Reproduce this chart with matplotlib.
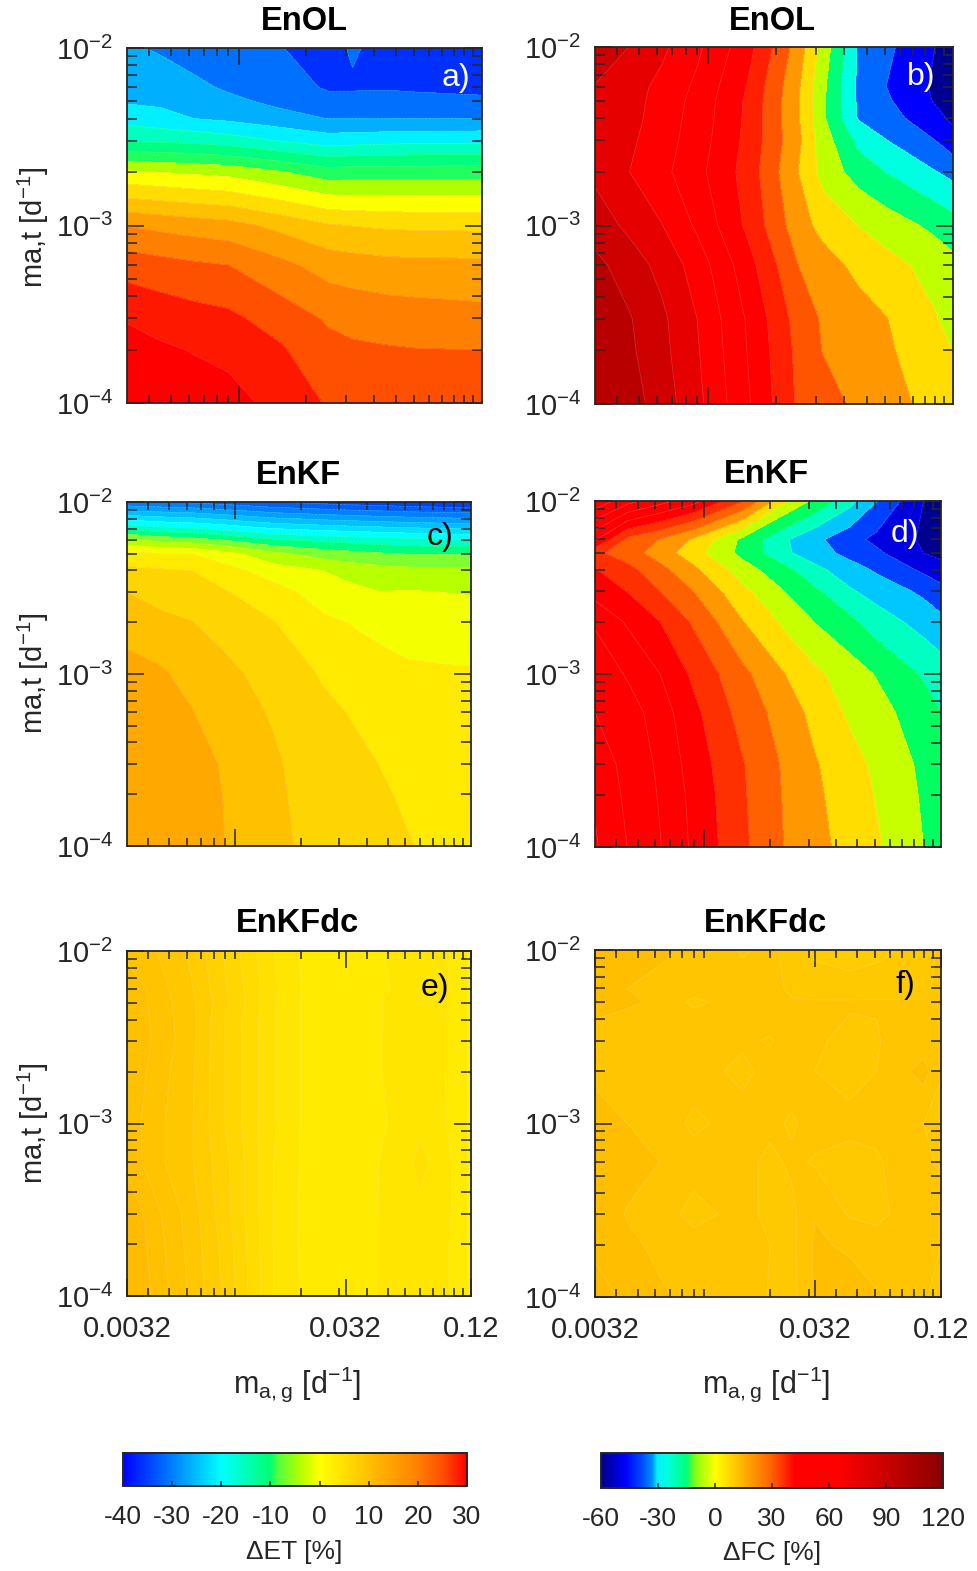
import matplotlib
matplotlib.use('Agg')
import matplotlib.pyplot as plt
import numpy as np
from matplotlib.colors import LinearSegmentedColormap, Normalize
from matplotlib.cm import ScalarMappable

plt.rcParams['font.family'] = ['Liberation Sans', 'DejaVu Sans']
plt.rcParams['mathtext.fontset'] = 'custom'
plt.rcParams['mathtext.rm'] = 'Liberation Sans'
plt.rcParams['mathtext.default'] = 'regular'

W, H = 977, 1571
DARK = '#262626'

# grid of the model runs
mag = [0.0032, 0.0045, 0.0063, 0.009, 0.015, 0.025, 0.032, 0.046, 0.061, 0.1, 0.12]
mag_e = [0.0032, 0.0045, 0.0063, 0.009, 0.015, 0.025, 0.032, 0.046, 0.061, 0.07, 0.1, 0.12]
mag_f = [0.0032, 0.0045, 0.0063, 0.009, 0.015, 0.02, 0.025, 0.032, 0.046, 0.061, 0.07, 0.1, 0.12]
mat = [1e-2, 6e-3, 5e-3, 4e-3, 3e-3, 2e-3, 1e-3, 6e-4, 3e-4, 2e-4, 1e-4]

# a) dET EnOL, one list per mag value
et_enol = [
    [-23.4, -21.3, -20.4, -17.6, -12.3, 0.5, 15.9, 22.2, 27.7, 29.5, 31],
    [-24.5, -21.8, -20.8, -18.6, -12.7, -0.1, 15, 21.4, 26.5, 28.6, 30.5],
    [-26, -23, -21.7, -20, -13, -0.7, 14.2, 20.6, 25.6, 27.8, 30],
    [-27, -24.6, -23, -20.8, -14, -1.3, 13.5, 20, 24.9, 26.9, 29.5],
    [-27.8, -26, -25, -22.4, -16.1, -3.6, 11, 17.2, 22.3, 24.6, 26.8],
    [-29.5, -28.5, -26.7, -24.1, -17.9, -6.3, 8.4, 14.3, 19.5, 21.2, 23.6],
    [-27.5, -28.5, -26.6, -24.1, -17.6, -6, 7.9, 13.8, 18.8, 20.6, 22.5],
    [-29.6, -28.4, -26.5, -24.1, -17.2, -5.9, 7.4, 13.2, 18.2, 20.3, 21.8],
    [-30, -28.6, -26.8, -24, -17, -5.9, 7.3, 13.1, 17.9, 20.1, 21.5],
    [-30.5, -28.9, -27.1, -24, -16.9, -5.8, 7.2, 13, 17.5, 20, 21.2],
    [-31, -29, -27.2, -24, -16.8, -5.7, 7.1, 12.9, 17.4, 20, 21],
]
# b) dFC EnOL, one list per mat value
fc_enol = [
    [92.7, 85, 77, 67, 48.8, 20.5, 1.2, -26, -32.7, -45, -49],
    [84.5, 79, 72.5, 63, 44.5, 16.5, -2.5, -26.8, -35, -46.5, -50],
    [83, 79, 71.2, 61.7, 43.3, 16.2, -2.8, -26.6, -33.5, -45.8, -50],
    [82, 78.6, 70.4, 61, 43, 16, -3, -25.8, -30.5, -42.2, -47],
    [80, 77, 69.5, 60, 42.3, 17.4, 0.4, -17.8, -24.8, -35, -41],
    [83, 75.2, 67.7, 58.1, 41, 15, 1.5, -9.4, -15.4, -24.6, -28],
    [90, 83, 75.3, 63.3, 43, 19.3, 11.9, 4.8, 0.3, -7.5, -11],
    [98, 90, 82, 70.5, 49, 25, 19.2, 12.4, 8.3, 1.5, -2],
    [103, 96, 87, 75, 53.9, 31, 23.9, 19, 15.3, 5.7, 2],
    [105, 97, 87.9, 76, 54.7, 32.5, 24.7, 20, 16.6, 8, 4.8],
    [110, 100, 90.2, 77.8, 56.3, 33.5, 29.2, 22.8, 19, 11.5, 9],
]
# c) dET EnKF, one list per mat value
et_enkf = [
    [-27.5, -28, -28.5, -29.5, -31, -32, -32.5, -33, -33.5, -34, -34],
    [-3.2, -4.9, -5.6, -7.1, -9.5, -10.6, -11, -11.6, -12, -12.6, -12.7],
    [2.7, 2.3, 2, 0.1, -3.3, -5.3, -5.9, -6.7, -7.1, -7.2, -7.2],
    [5.75, 5.3, 5, 3.2, 0.5, -1, -2, -2.9, -3.2, -3.4, -3.4],
    [8, 6.9, 6.3, 5.2, 3.2, 0.7, 0, -1, -0.8, -1.1, -1.2],
    [9.6, 8.8, 8.1, 6.7, 5.1, 2.6, 2, 1.3, 0.8, 0.5, 0.4],
    [12.3, 11.5, 9.9, 8.9, 6.6, 4.8, 3.8, 2.9, 2.5, 2.3, 2.3],
    [14, 12.8, 11.2, 9, 7.8, 5.5, 5, 3.7, 3.1, 2.9, 2.8],
    [16, 14.5, 12.5, 10.6, 8.3, 6.8, 5.9, 4.95, 4.1, 3.5, 3.4],
    [17, 15.3, 13.3, 10.8, 8.4, 7, 6.4, 5.4, 4.6, 3.7, 3.6],
    [18, 16, 14, 11, 8.5, 7.3, 7, 6, 5.2, 4, 3.8],
]
# d) dFC EnKF, one list per mat value
fc_enkf = [
    [75, 64, 56.3, 48, 29.7, 2.6, -4.9, -16.2, -26.7, -43, -46],
    [46, 27, 20.7, 11.8, -4.8, -19.6, -25, -32.1, -37, -44.2, -47],
    [31, 24.6, 17.4, 8.2, -5.4, -18.8, -23.4, -29.4, -33.4, -43, -45],
    [37.5, 31.7, 23.6, 14.7, 0.9, -10.5, -16.7, -23.4, -28.1, -36.5, -40],
    [42, 36.8, 29.1, 20.9, 7, -4.6, -9.5, -17.9, -22.1, -28.6, -32],
    [52, 44, 37.1, 27.9, 13.3, 1.9, -3.2, -8.9, -15, -22, -25],
    [59, 52.1, 45.1, 35.3, 23, 11.5, 6.7, 0.9, -3.5, -12, -15],
    [61, 57, 49, 39, 26, 16, 10.5, 3.7, 0, -7.5, -11],
    [66, 58.3, 51.7, 41.3, 29.6, 18.3, 13.7, 8, 3.4, -4.7, -8],
    [68, 59.2, 52.4, 42.6, 30, 18.8, 14.5, 9, 4.5, -4, -7],
    [70, 60.9, 53.5, 43.5, 30.7, 19.2, 15.6, 10.2, 6.1, -3, -6],
]
# e) dET EnKFdc, one list per mag_e value
et_dc = [
    [11.6, 12.9, 12.9, 12.9, 12.9, 12.9, 12.6, 12.7, 13.9, 14.1, 14.4],
    [10.9, 11.4, 11.5, 11.6, 11.7, 11.4, 11.2, 11.2, 12.1, 12.3, 12.5],
    [9.8, 10.1, 10.25, 10.3, 10.3, 10.2, 10.1, 10.1, 10.5, 10.6, 10.8],
    [7.9, 8.1, 8.3, 8, 8, 8, 8, 8.3, 8.4, 8.6, 8.8],
    [5, 5.2, 5.1, 5.1, 5.1, 5.1, 5.1, 5, 4.95, 4.97, 5],
    [3.1, 3.1, 3.1, 3.1, 3.1, 3.1, 3.1, 3.1, 3.1, 3.1, 3.1],
    [3.1, 3.1, 3.1, 3.1, 3.1, 3.1, 3.1, 3.1, 3.1, 3.1, 3.1],
    [3.95, 3.8, 3.97, 3.95, 3.97, 3.97, 3.85, 4.03, 4.06, 4.06, 4.1],
    [4.3, 4.3, 4.4, 4.4, 4.4, 4.4, 4.4, 4.6, 4.4, 4.4, 4.4],
    [4.5, 4.6, 4.75, 4.6, 4.6, 4.6, 4.75, 5.4, 4.7, 4.6, 4.6],
    [3.9, 3.9, 3.9, 3.8, 3.8, 3.8, 3.8, 3.9, 3.95, 3.9, 3.9],
    [2.8, 2.8, 2.8, 2.8, 2.8, 2.8, 2.8, 2.8, 2.8, 2.8, 2.8],
]
# f) dFC EnKFdc, one list per mat value
fc_dc = [
    [13.8, 13.5, 13.2, 12.8, 11.9, 12.2, 11.7, 10.8, 10.4, 10.7, 10.9, 11.5, 12.2],
    [13.4, 13, 12.7, 12.5, 12.4, 12.4, 11.8, 11.5, 11.5, 11.6, 11.6, 11.7, 12.4],
    [13.4, 13.2, 12.8, 11.75, 12.5, 12.4, 12.1, 12.1, 12.1, 12.1, 12.1, 12.1, 12.5],
    [13, 12.7, 12.6, 12.5, 12.5, 12.4, 12.5, 12.4, 11.95, 12, 12.3, 12.4, 12.3],
    [12.8, 12.7, 12.6, 12.5, 12.2, 11.9, 12.5, 12.3, 11.5, 11.8, 12.4, 12.5, 12.5],
    [12.7, 12.6, 12.5, 12.5, 11.7, 12.4, 12.5, 12, 11.5, 12, 12.4, 13.4, 12.1],
    [13.6, 13, 12.7, 11.75, 12.5, 12.3, 11.85, 12.4, 12.4, 12.4, 12.4, 12, 11.5],
    [13.9, 13.5, 13, 12.5, 12.4, 11.7, 12.2, 11.9, 11.5, 11.8, 12.2, 12.3, 11.8],
    [13.9, 12.9, 12.6, 11.6, 12.4, 11.7, 11.7, 12.95, 11.9, 11.7, 12, 12.4, 12.4],
    [13.7, 13.3, 12.7, 12.5, 12.4, 12, 11.7, 13.15, 12.85, 12.5, 12.6, 12.5, 12],
    [14.6, 13.7, 13.2, 12.6, 12.4, 11.95, 11.6, 13.2, 13.5, 13.1, 12.95, 12.1, 11.7],
]

# contour levels and the colour of each band
levels_a = [-32, -28, -24, -20, -16, -12, -8, -4, 0, 4, 8, 12, 16, 20, 24, 28, 32]
colors_a = ['#0030ff', '#0070ff', '#00b0ff', '#00f0ff', '#00ffc0', '#00ff80', '#20ff60', '#b0ff00',
            '#ffff00', '#ffdd00', '#ffc000', '#ffa000', '#ff8000', '#ff5000', '#ff1800', '#ff0000']
levels_b = [-55, -45, -35, -25, -15, -5, 5, 15, 25, 35, 45, 55, 65, 75, 85, 95, 125]
colors_b = ['#000090', '#0000ff', '#0068ff', '#00ffe0', '#00ff78', '#c0ff00', '#ffdd00', '#ff9800',
            '#ff5500', '#ff2000', '#ff0000', '#ff0000', '#ff0000', '#e60000', '#ce0000', '#b80000']
levels_c = [-37, -34, -31, -28, -25, -22, -19, -16, -13, -10, -7, -4, -1, 2, 5, 8, 11, 20]
colors_c = ['#0030ff', '#0040ff', '#0060ff', '#0080ff', '#00a0ff', '#00c0ff', '#00e0ff', '#00ffff',
            '#00ffc8', '#00ff80', '#80ff30', '#b8ff00', '#f4ff00', '#ffea00', '#ffd500', '#ffc000', '#ffa800']
levels_d = [-51, -43, -35, -27, -19, -11, -3, 5, 13, 21, 29, 37, 45, 53, 61, 69, 80]
colors_d = ['#000090', '#0000e0', '#0040ff', '#00c8ff', '#00ffc0', '#00ff60', '#c8ff00', '#ffdd00',
            '#ff9800', '#ff6000', '#ff3000', '#ff0000', '#ff0000', '#ff0000', '#ff0000', '#ff0000']
levels_e = [2, 3, 4, 5, 6, 7, 8, 9, 10, 11, 12, 13, 20]
colors_e = ['#ffef00', '#ffea00', '#ffe500', '#ffe000', '#ffdb00', '#ffd600', '#ffd100', '#ffcc00',
            '#ffc700', '#ffc300', '#ffc000', '#ffbb00']
levels_f = [10, 11, 12, 13, 14, 16]
colors_f = ['#ffcc00', '#ffc900', '#ffc500', '#ffbf00', '#ffbb00']

# colorbars
et_stops = [-40, -30, -20, -10, -8.5, -4, 0, 10, 20, 25, 30]
et_colors = ['#0000ff', '#0080ff', '#00ffff', '#00ff70', '#50ff40', '#b0ff00', '#ffff00', '#ffc000',
             '#ff8000', '#ff5000', '#ff0000']
et_ticks = [-40, -30, -20, -10, 0, 10, 20, 30]
fc_stops = [-60, -47, -38, -33, -30.5, -25, -15, -13, -10, 0, 15, 30, 42, 65, 120]
fc_colors = ['#00008b', '#0000ff', '#0050ff', '#0090ff', '#00f0ff', '#00ffe0', '#00ff78', '#40ff40',
             '#90ff10', '#ffff00', '#ffb000', '#ff6000', '#ff0000', '#ff0000', '#8b0000']
fc_ticks = [-60, -30, 0, 30, 60, 90, 120]

y_major = [1e-4, 1e-3, 1e-2]
y_labels = ['$10^{-4}$', '$10^{-3}$', '$10^{-2}$']
y_minor = [2e-4, 3e-4, 4e-4, 5e-4, 6e-4, 7e-4, 8e-4, 9e-4, 2e-3, 3e-3, 4e-3, 5e-3, 6e-3, 7e-3, 8e-3, 9e-3]
x_minor = [0.004, 0.005, 0.006, 0.007, 0.008, 0.009, 0.02, 0.03, 0.04, 0.05, 0.06, 0.07, 0.08, 0.09, 0.1, 0.11]
x_labels = ['0.0032', '0.032', '0.12']
x_label_pos = [0.0032, 0.032, 0.12]


def add_axes_px(left, top, right, bottom):
    return fig.add_axes([left / W, 1 - bottom / H, (right - left) / W, (bottom - top) / H])


def text_px(x, y, s, **kw):
    kw.setdefault('ha', 'center')
    kw.setdefault('va', 'center')
    kw.setdefault('color', DARK)
    fig.text(x / W, 1 - y / H, s, **kw)


def panel(box, x, z, levels, colors, title, title_xy, letter, letter_xy, letter_color, bottom_row):
    ax = add_axes_px(*box)
    lx = np.log10(x)
    ly = np.log10(mat)
    ax.contourf(lx, ly, z, levels=levels, colors=colors)
    ax.contour(lx, ly, z, levels=levels[1:-1], colors='white', linewidths=0.5, alpha=0.22)
    ax.set_xlim(np.log10(0.0032), np.log10(0.12))
    ax.set_ylim(-4, -2)
    ax.set_yticks(np.log10(y_major))
    ax.set_yticklabels(y_labels)
    ax.set_yticks(np.log10(y_minor), minor=True)
    minor = list(x_minor)
    if bottom_row:
        minor = minor + [0.01]
        ax.set_xticks(np.log10(x_label_pos))
        ax.set_xticklabels(x_labels)
    else:
        ax.set_xticks(np.log10([0.01]))
        ax.set_xticklabels([''])
    ax.set_xticks(np.log10(minor), minor=True)
    ax.tick_params(axis='both', which='major', direction='in', top=True, right=True, length=12.5,
                   width=1.1, color=DARK, labelcolor=DARK, labelsize=21)
    ax.tick_params(axis='both', which='minor', direction='in', top=True, right=True, length=6,
                   width=1.1, color=DARK)
    ax.tick_params(axis='y', which='minor', length=7.2)
    ax.tick_params(axis='x', which='major', pad=14)
    ax.tick_params(axis='y', which='major', pad=10)
    for sp in ax.spines.values():
        sp.set_linewidth(1.3)
        sp.set_color(DARK)
    text_px(title_xy[0], title_xy[1], title, fontsize=23.5, fontweight='bold', color='black')
    text_px(letter_xy[0], letter_xy[1], letter, fontsize=23, color=letter_color)
    return ax


def colorbar(box, stops, colors, ticks, label, label_xy):
    cax = add_axes_px(*box)
    lo, hi = stops[0], stops[-1]
    pos = [(s - lo) / (hi - lo) for s in stops]
    cmap = LinearSegmentedColormap.from_list('bar', list(zip(pos, colors)), N=512)
    cb = fig.colorbar(ScalarMappable(Normalize(lo, hi), cmap), cax=cax, orientation='horizontal')
    cb.set_ticks(ticks)
    cb.set_ticklabels([str(t) for t in ticks])
    cb.outline.set_linewidth(1.4)
    cb.outline.set_edgecolor(DARK)
    cax.tick_params(axis='x', direction='in', length=3.5, width=1.1, color=DARK, labelcolor=DARK,
                    labelsize=19, pad=14)
    text_px(label_xy[0], label_xy[1], label, fontsize=19)


fig = plt.figure(figsize=(W / 100, H / 100), dpi=100)

panel((127, 48, 482, 403), mag, np.array(et_enol).T, levels_a, colors_a, 'EnOL', (304, 22),
      'a)', (456, 78), 'white', False)
panel((595, 47, 953, 404), mag, np.array(fc_enol), levels_b, colors_b, 'EnOL', (772, 21),
      'b)', (921, 77), 'white', False)
panel((127, 502, 471, 846), mag, np.array(et_enkf), levels_c, colors_c, 'EnKF', (298, 475),
      'c)', (440, 537), 'black', False)
panel((595, 501, 941, 847), mag, np.array(fc_enkf), levels_d, colors_d, 'EnKF', (766, 474),
      'd)', (905, 534), 'white', False)
panel((127, 951, 471, 1296), mag_e, np.array(et_dc).T, levels_e, colors_e, 'EnKFdc', (298, 924),
      'e)', (435, 988), 'black', True)
panel((595, 950, 941, 1297), mag_f, np.array(fc_dc), levels_f, colors_f, 'EnKFdc', (766, 924),
      'f)', (905, 985), 'black', True)

for yc in [227, 673, 1123]:
    text_px(33, yc, 'ma,t [d$^{-1}$]', fontsize=21, rotation=90)
for xc in [297, 766]:
    text_px(xc, 1384, '$m_{a,g}$ [d$^{-1}$]', fontsize=22)

colorbar((123, 1453, 467, 1486), et_stops, et_colors, et_ticks, '\u0394ET [%]', (294, 1552))
colorbar((601, 1453, 943, 1488), fc_stops, fc_colors, fc_ticks, '\u0394FC [%]', (772, 1553))

fig.savefig('out.png', dpi=100)
